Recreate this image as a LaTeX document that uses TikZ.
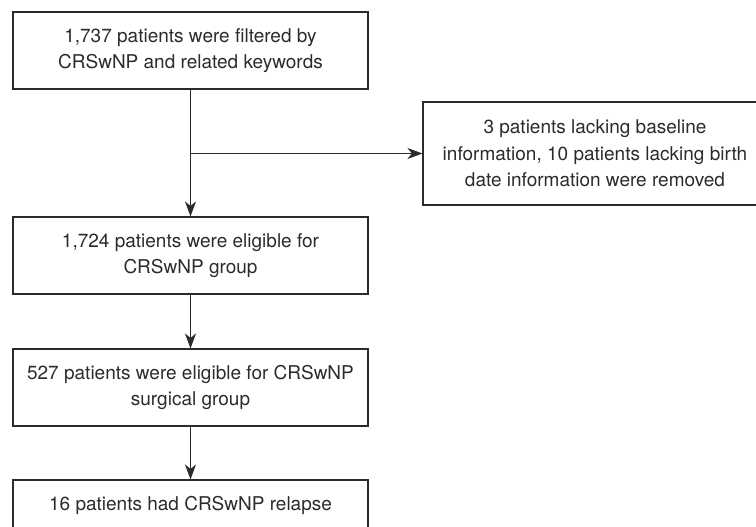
\documentclass[tikz,border=0pt]{standalone}
\usepackage{fontspec}
\setmainfont{TeX Gyre Heros}
\usetikzlibrary{arrows.meta}
\definecolor{ink}{HTML}{2B2B2B}
\begin{document}
\begin{tikzpicture}[x=1pt,y=-1pt,
  box/.style={draw=ink, line width=1.1pt, rectangle, inner sep=0pt, align=center,
    text=ink, font=\fontsize{19}{26.5}\selectfont},
  mainbox/.style={box, minimum width=355pt, minimum height=77pt},
  conn/.style={draw=ink, line width=1.1pt, -{Stealth[length=15pt,width=11pt,inset=4.5pt]}}]
\useasboundingbox (0,0) rectangle (756,527);
\clip (0,0) rectangle (756,527);
\node[mainbox] (b1) at (190.5,50.5) {1,737 patients were filtered by\\CRSwNP and related keywords};
\node[box, minimum width=344pt, minimum height=103pt] (side) at (595,153.5) {3 patients lacking baseline\\information, 10 patients lacking birth\\date information were removed};
\node[mainbox] (b2) at (190.5,255.5) {1,724 patients were eligible for\\CRSwNP group};
\node[mainbox] (b3) at (190.5,387.5) {527 patients were eligible for CRSwNP\\surgical group};
\node[box, minimum width=355pt, minimum height=51pt] (b4) at (190.5,505.5) {16 patients had CRSwNP relapse};
\coordinate (j) at (b1.south |- side.west);
\draw[conn] (b1.south) -- (b2.north);
\draw[conn] (j) -- (side.west);
\draw[conn] (b2.south) -- (b3.north);
\draw[conn] (b3.south) -- (b4.north);
\end{tikzpicture}
\end{document}
